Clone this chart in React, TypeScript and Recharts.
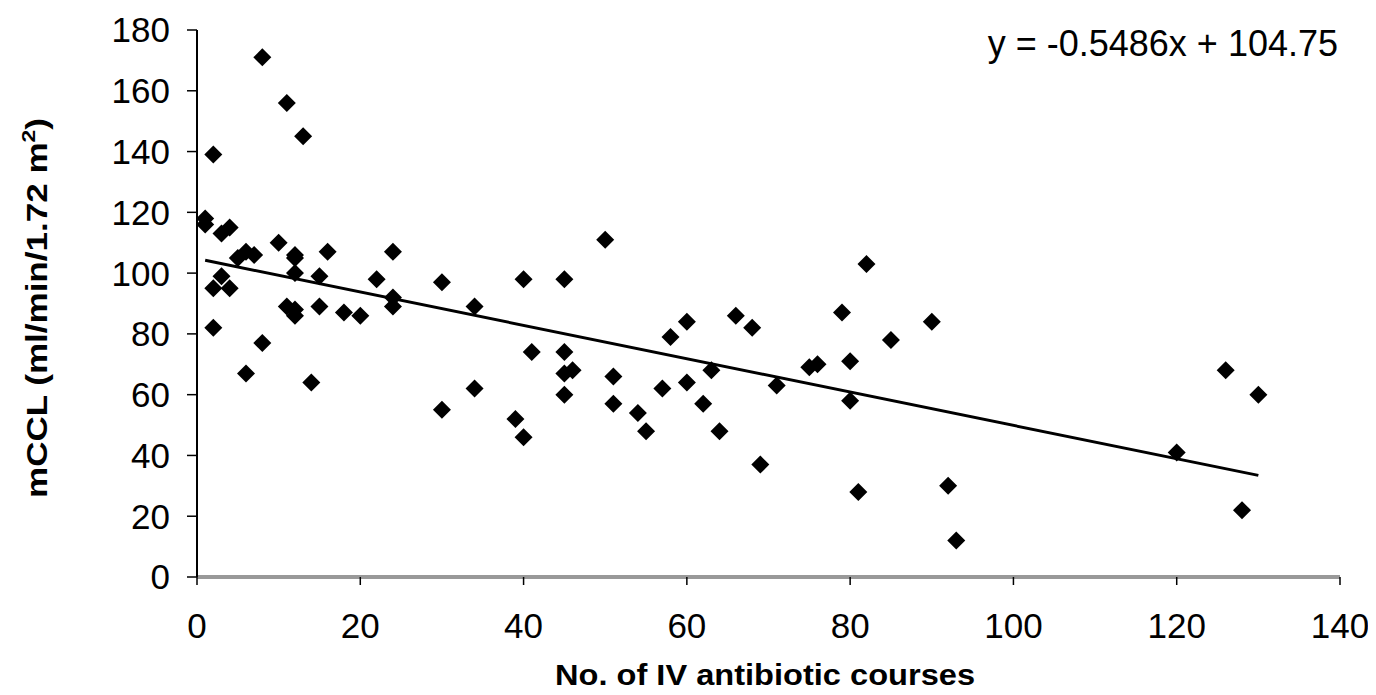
import type React from 'react';
import {
  ScatterChart,
  Scatter,
  XAxis,
  YAxis,
  ReferenceLine,
} from 'recharts';

// No. of IV antibiotic courses
const courses = [
  1, 1, 3, 4, 2, 8, 11, 13, 10, 12, 12, 16, 24, 5, 6, 7, 12, 15, 3, 2, 4, 22,
  24, 24, 11, 12, 12, 15, 18, 20, 2, 8, 6, 14, 30, 34, 40, 45, 50, 58, 41, 45,
  45, 46, 51, 57, 34, 30, 45, 51, 54, 55, 39, 40, 60, 66, 68, 82, 79, 85, 80,
  75, 76, 63, 60, 71, 80, 62, 64, 69, 90, 92, 93, 81, 126, 130, 120, 128,
];

// mCCL (ml/min/1.72 m2)
const mccl = [
  118, 116, 113, 115, 139, 171, 156, 145, 110, 106, 105, 107, 107, 105, 107,
  106, 100, 99, 99, 95, 95, 98, 92, 89, 89, 88, 86, 89, 87, 86, 82, 77, 67, 64,
  97, 89, 98, 98, 111, 79, 74, 74, 67, 68, 66, 62, 62, 55, 60, 57, 54, 48, 52,
  46, 84, 86, 82, 103, 87, 78, 71, 69, 70, 68, 64, 63, 58, 57, 48, 37, 84, 30,
  12, 28, 68, 60, 41, 22,
];

const xTicks = [0, 20, 40, 60, 80, 100, 120, 140];
const yTicks = [0, 20, 40, 60, 80, 100, 120, 140, 160, 180];

// regression from the figure
const slope = -0.5486;
const intercept = 104.75;
const fitFrom = 1;
const fitTo = 130;

const points = courses.map((x, i) => ({ x, y: mccl[i] }));

const font = '"Liberation Sans", Arial, sans-serif';

const Diamond = (props: any) => {
  const { cx, cy } = props;
  const r = 9;
  return (
    <polygon
      points={`${cx},${cy - r} ${cx + r},${cy} ${cx},${cy + r} ${cx - r},${cy}`}
      fill="#000"
    />
  );
};

const App: React.FC = () => {
  return (
    <ScatterChart
      width={1368}
      height={687}
      margin={{ top: 22, right: 36, left: 0, bottom: 0 }}
    >
      <XAxis
        type="number"
        dataKey="x"
        domain={[0, 140]}
        ticks={xTicks}
        height={118}
        axisLine={{ stroke: '#999', strokeWidth: 4 }}
        tickLine={{ stroke: '#000', strokeWidth: 1.5 }}
        tickSize={8}
        tickMargin={28}
        tick={{ fill: '#000', fontSize: 35, fontFamily: font }}
        label={{
          content: () => (
            <text
              x={757}
              y={677}
              textAnchor="middle"
              fontFamily={font}
              fontWeight="bold"
              fontSize={29}
              fill="#000"
              textLength={420}
              lengthAdjust="spacingAndGlyphs"
            >
              No. of IV antibiotic courses
            </text>
          ),
        }}
      />
      <YAxis
        type="number"
        dataKey="y"
        domain={[0, 180]}
        ticks={yTicks}
        width={189}
        axisLine={{ stroke: '#000', strokeWidth: 2 }}
        tickLine={{ stroke: '#000', strokeWidth: 1.5 }}
        tickSize={10}
        tickMargin={17}
        tick={{ fill: '#000', fontSize: 35, fontFamily: font }}
        label={{
          content: () => (
            <text
              x={39}
              y={300}
              transform="rotate(-90 39 300)"
              textAnchor="middle"
              fontFamily={font}
              fontWeight="bold"
              fontSize={29}
              fill="#000"
              textLength={380}
              lengthAdjust="spacingAndGlyphs"
            >
              mCCL (ml/min/1.72 m
              <tspan fontSize={19} dy={-12}>
                2
              </tspan>
              <tspan dy={12}>)</tspan>
            </text>
          ),
        }}
      />
      <ReferenceLine
        segment={[
          { x: fitFrom, y: intercept + slope * fitFrom },
          { x: fitTo, y: intercept + slope * fitTo },
        ]}
        stroke="#000"
        strokeWidth={3}
        ifOverflow="visible"
        label={{
          content: () => (
            <text
              x={1330}
              y={48}
              textAnchor="end"
              fontFamily={font}
              fontSize={36}
              fill="#000"
            >
              y = -0.5486x + 104.75
            </text>
          ),
        }}
      />
      <Scatter data={points} shape={Diamond} isAnimationActive={false} />
    </ScatterChart>
  );
};

export default App;
